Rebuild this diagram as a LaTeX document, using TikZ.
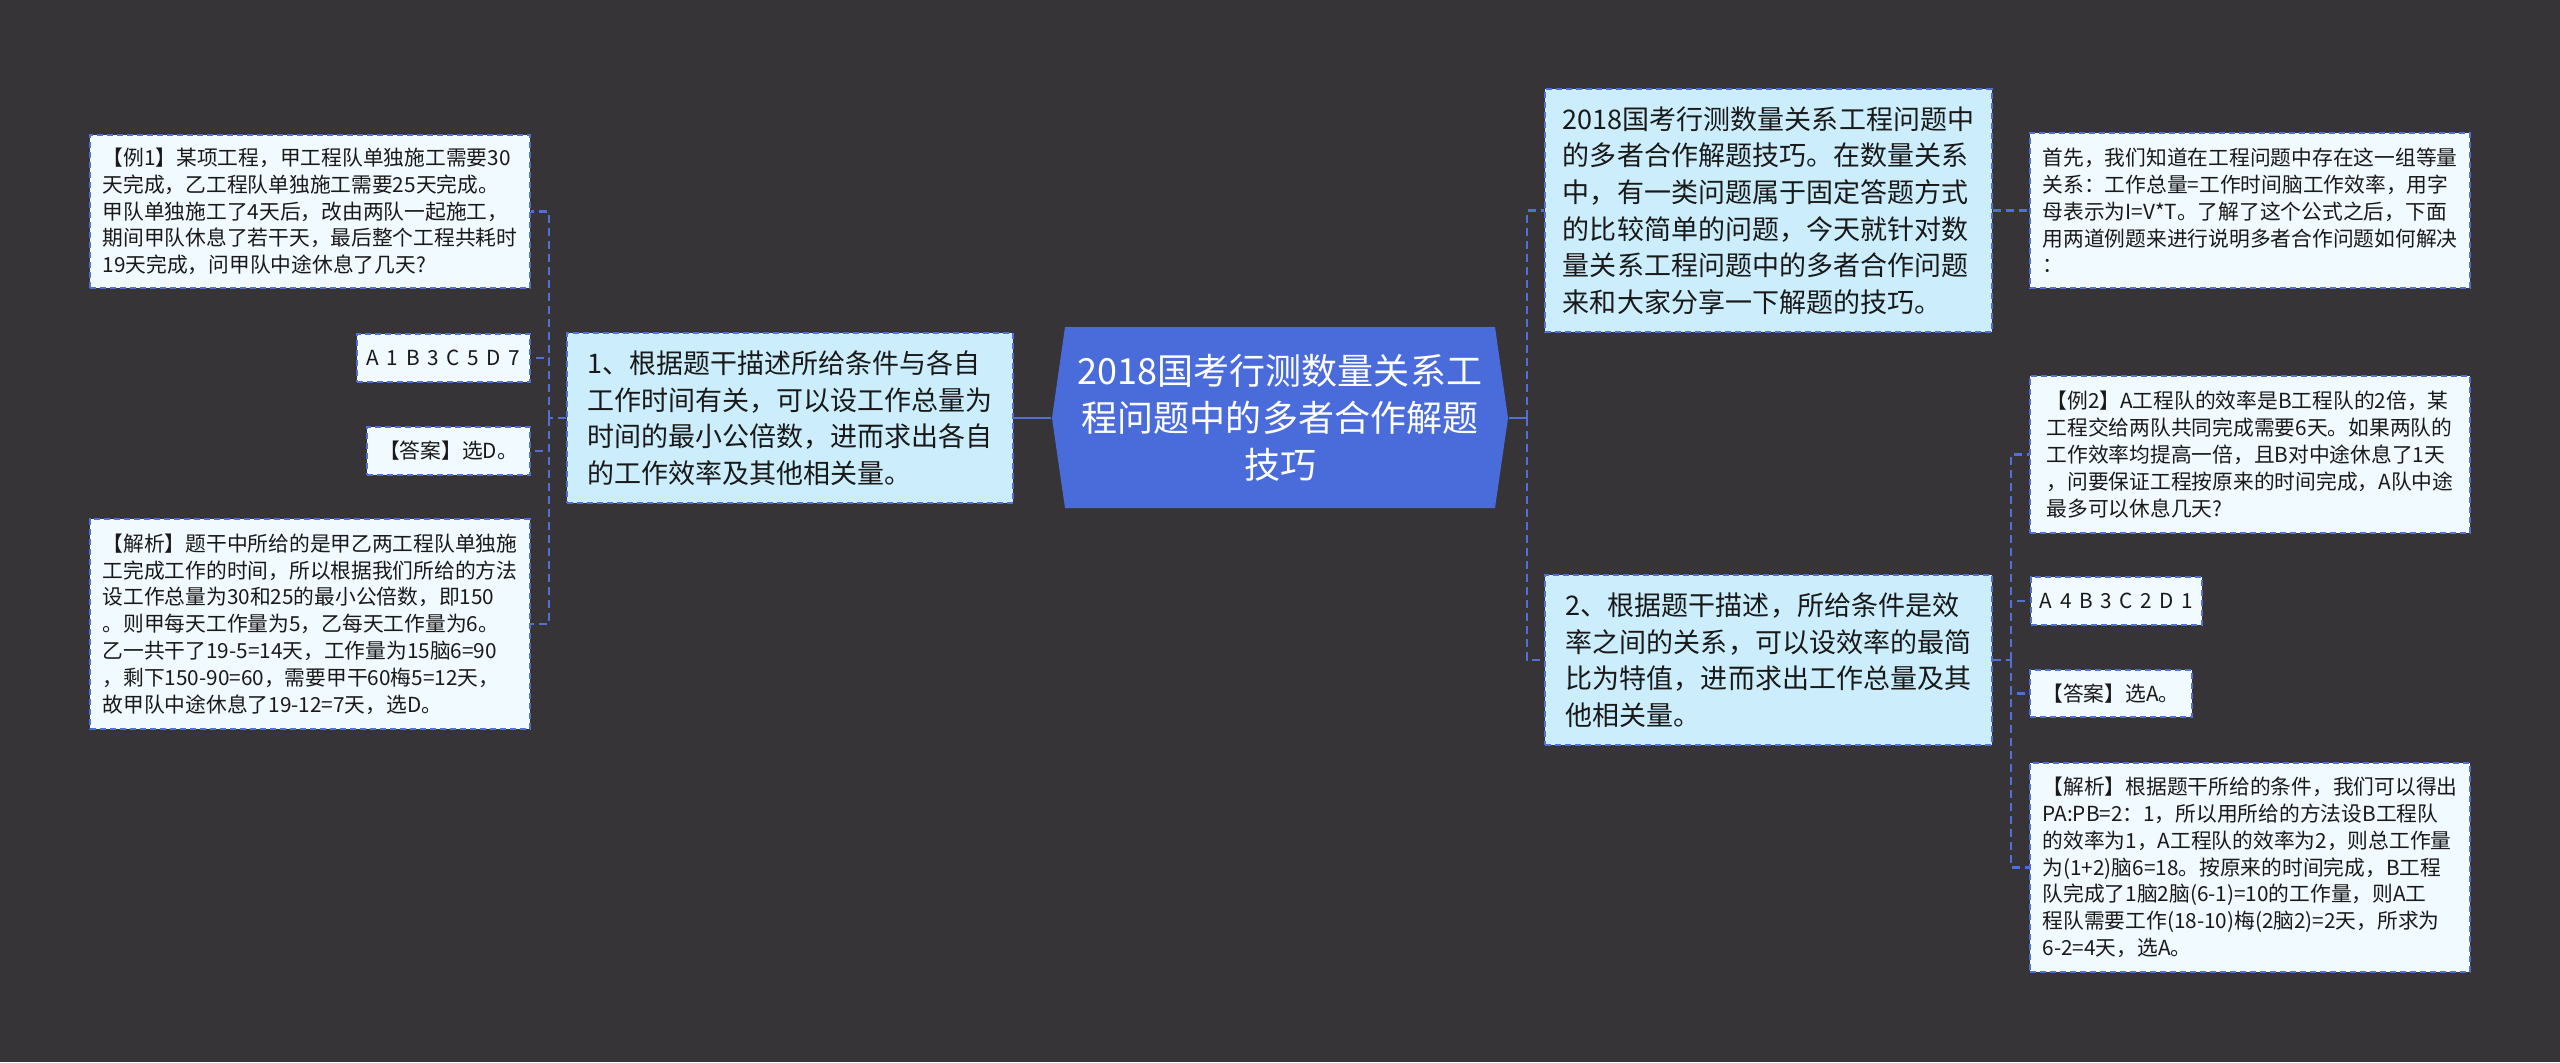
\documentclass[tikz,border=0pt]{standalone}
\usepackage{fontspec}
\setmainfont{Noto Sans CJK SC}
\definecolor{bgdark}{HTML}{363436}
\definecolor{rootblue}{HTML}{4A6CDB}
\definecolor{linkblue}{HTML}{5070D8}
\definecolor{midfill}{HTML}{CCEEFC}
\definecolor{leaffill}{HTML}{F0FAFF}
\newcommand{\widesp}{\spaceskip=0.37em\relax}
\begin{document}
\begin{tikzpicture}[x=0.01cm, y=-0.01cm,
  midbox/.style={draw=linkblue, line width=0.6pt, dash pattern=on 0.06cm off 0.04cm,
    fill=midfill, align=left, inner sep=0pt, text=black!90,
    font=\fontsize{7.68pt}{10.4pt}\selectfont},
  leafbox/.style={draw=linkblue, line width=0.6pt, dash pattern=on 0.06cm off 0.04cm,
    fill=leaffill, align=left, inner sep=0pt, text=black!90,
    font=\fontsize{5.9pt}{7.62pt}\selectfont},
  optbox/.style={leafbox, align=center},
  link/.style={draw=linkblue, line width=0.8pt},
  dlink/.style={draw=linkblue, line width=0.8pt, dash pattern=on 0.08cm off 0.05cm}]
\fill[bgdark] (0,0) rectangle (2560,1062);

% centre
\path (1280,418) coordinate (C);
\fill[rootblue] ([shift={(-215,-91)}]C) -- ([shift={(215,-91)}]C) -- ([shift={(228,0)}]C)
  -- ([shift={(215,90)}]C) -- ([shift={(-215,90)}]C) -- ([shift={(-228,0)}]C) -- cycle;
\node[minimum width=4.56cm, minimum height=1.81cm, align=center, text=white,
  font=\fontsize{10.24pt}{13.4pt}\selectfont] (root) at (C)
  {2018国考行测数量关系工\\程问题中的多者合作解题\\技巧};

% left
\node[midbox, minimum width=4.46cm, minimum height=1.70cm] (L1) at (790,418)
  {1、根据题干描述所给条件与各自\\工作时间有关，可以设工作总量为\\时间的最小公倍数，进而求出各自\\的工作效率及其他相关量。};
\node[leafbox, minimum width=4.40cm, minimum height=1.53cm] (LA) at (310,211.5)
  {【例1】某项工程，甲工程队单独施工需要30\\天完成，乙工程队单独施工需要25天完成。\\甲队单独施工了4天后，改由两队一起施工，\\期间甲队休息了若干天，最后整个工程共耗时\\19天完成，问甲队中途休息了几天?};
\node[optbox, minimum width=1.73cm, minimum height=0.48cm] (LB) at (443.5,358)
  {\widesp A 1 B 3 C 5 D 7};
\node[optbox, minimum width=1.63cm, minimum height=0.48cm] (LC) at (448.5,451)
  {【答案】选D。};
\node[leafbox, minimum width=4.40cm, minimum height=2.10cm] (LD) at (310,624)
  {【解析】题干中所给的是甲乙两工程队单独施\\工完成工作的时间，所以根据我们所给的方法\\设工作总量为30和25的最小公倍数，即150\\。则甲每天工作量为5，乙每天工作量为6。\\乙一共干了19-5=14天，工作量为15脑6=90\\，剩下150-90=60，需要甲干60梅5=12天，\\故甲队中途休息了19-12=7天，选D。};

% right
\node[midbox, minimum width=4.47cm, minimum height=2.43cm] (R1) at (1768.5,210.5)
  {2018国考行测数量关系工程问题中\\的多者合作解题技巧。在数量关系\\中，有一类问题属于固定答题方式\\的比较简单的问题，今天就针对数\\量关系工程问题中的多者合作问题\\来和大家分享一下解题的技巧。};
\node[midbox, minimum width=4.47cm, minimum height=1.70cm] (R2) at (1768.5,660)
  {2、根据题干描述，所给条件是效\\率之间的关系，可以设效率的最简\\比为特值，进而求出工作总量及其\\他相关量。};
\node[leafbox, minimum width=4.40cm, minimum height=1.55cm] (R1a) at (2250,210.5)
  {首先，我们知道在工程问题中存在这一组等量\\关系：工作总量=工作时间脑工作效率，用字\\母表示为I=V*T。了解了这个公式之后，下面\\用两道例题来进行说明多者合作问题如何解决\\：};
\node[leafbox, minimum width=4.40cm, minimum height=1.57cm] (R2a) at (2250,454.5)
  {【例2】A工程队的效率是B工程队的2倍，某\\工程交给两队共同完成需要6天。如果两队的\\工作效率均提高一倍，且B对中途休息了1天\\，问要保证工程按原来的时间完成，A队中途\\最多可以休息几天?};
\node[optbox, minimum width=1.71cm, minimum height=0.48cm] (R2b) at (2116.5,601)
  {\widesp A 4 B 3 C 2 D 1};
\node[optbox, minimum width=1.62cm, minimum height=0.47cm] (R2c) at (2111,693.5)
  {【答案】选A。};
\node[leafbox, minimum width=4.40cm, minimum height=2.09cm] (R2d) at (2250,867.5)
  {【解析】根据题干所给的条件，我们可以得出\\PA:PB=2：1，所以用所给的方法设B工程队\\的效率为1，A工程队的效率为2，则总工作量\\为(1+2)脑6=18。按原来的时间完成，B工程\\队完成了1脑2脑(6-1)=10的工作量，则A工\\程队需要工作(18-10)梅(2脑2)=2天，所求为\\6-2=4天，选A。};

% links
\path (549,418) coordinate (Lbus);
\path (1527,418) coordinate (Rbus);
\path (2011,660) coordinate (R2bus);
\draw[link] (root.west) -- (L1.east);
\draw[link] (root.east) -- (Rbus);
\draw[dlink] (L1.west) -- (Lbus);
\foreach \n in {LA,LB,LC,LD}
{
  \draw[dlink] (Lbus) |- (\n.east);
}
\foreach \n in {R1,R2}
{
  \draw[dlink] (Rbus) |- (\n.west);
}
\draw[dlink] (R1.east) -- (R1a.west);
\draw[dlink] (R2.east) -- (R2bus);
\foreach \n in {R2a,R2b,R2c,R2d}
{
  \draw[dlink] (R2bus) |- (\n.west);
}
\end{tikzpicture}
\end{document}
